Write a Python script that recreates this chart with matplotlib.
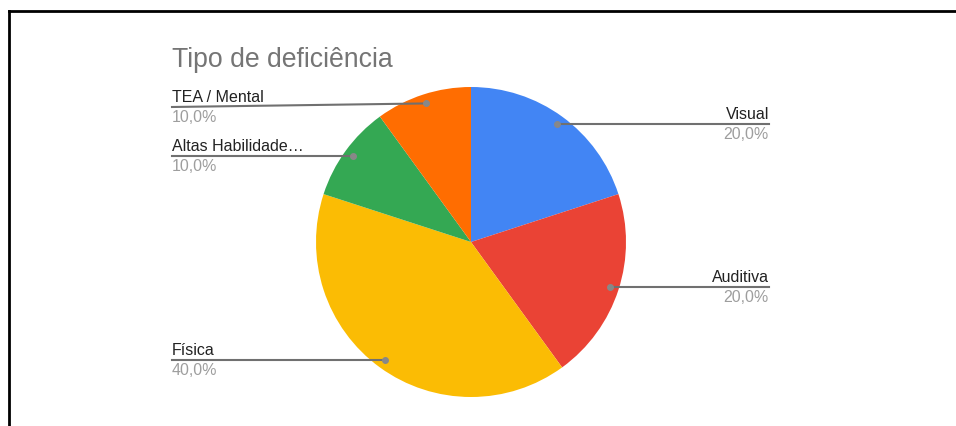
import matplotlib
matplotlib.use('Agg')
import matplotlib.pyplot as plt
import numpy as np
from matplotlib.lines import Line2D

plt.rcParams['font.family'] = ['Liberation Sans', 'DejaVu Sans']

labels = ['Visual', 'Auditiva', 'Física', 'Altas Habilidade…', 'TEA / Mental']
values = [20, 20, 40, 10, 10]
pct_text = ['20,0%', '20,0%', '40,0%', '10,0%', '10,0%']
colors = ['#4285f4', '#ea4335', '#fbbc04', '#34a853', '#ff6d01']

W, H = 956, 426
fig = plt.figure(figsize=(W / 100, H / 100), dpi=100)

# pie axes: centre (471, 242) px from top, radius 155 px
cx, cy, r = 471, H - 242, 155
ax = fig.add_axes([(cx - r) / W, (cy - r) / H, 2 * r / W, 2 * r / H])
wedges, _ = ax.pie(values, colors=colors, startangle=90, counterclock=False,
                   radius=1, wedgeprops=dict(linewidth=0))
ax.set_xlim(-1, 1)
ax.set_ylim(-1, 1)
ax.set_aspect('equal')
ax.axis('off')

fig.text(172 / W, 1 - 60 / H, 'Tipo de deficiência', fontsize=19.2,
         color='#757575', ha='left', va='center')

# label anchors: text x and line y at text end (px from top; None = level with dot)
side = ['right', 'right', 'left', 'left', 'left']
text_x = [769, 769, 172, 172, 172]
line_y = [None, None, None, None, 107]

for i, w in enumerate(wedges):
    ang = np.deg2rad((w.theta1 + w.theta2) / 2)
    dx, dy = ax.transData.transform((0.94 * np.cos(ang), 0.94 * np.sin(ang)))
    ly = dy if line_y[i] is None else H - line_y[i]
    tx = text_x[i]
    fig.add_artist(Line2D([dx, tx], [dy, ly], transform=None,
                          color='#707070', lw=1.5))
    fig.add_artist(Line2D([dx], [dy], transform=None, marker='o', ms=4,
                          color='#888888', lw=0))
    ha = 'right' if side[i] == 'right' else 'left'
    fig.text(tx / W, (ly + 5) / H, labels[i], fontsize=11.5,
             color='#222222', ha=ha, va='baseline')
    fig.text(tx / W, (ly - 3) / H, pct_text[i], fontsize=11.5,
             color='#9e9e9e', ha=ha, va='top')

# outer frame (top and left edges visible)
fig.add_artist(Line2D([9, W], [H - 11, H - 11], transform=None, color='black', lw=2))
fig.add_artist(Line2D([9, 9], [0, H - 11], transform=None, color='black', lw=2))

fig.savefig('out.png', dpi=100)
